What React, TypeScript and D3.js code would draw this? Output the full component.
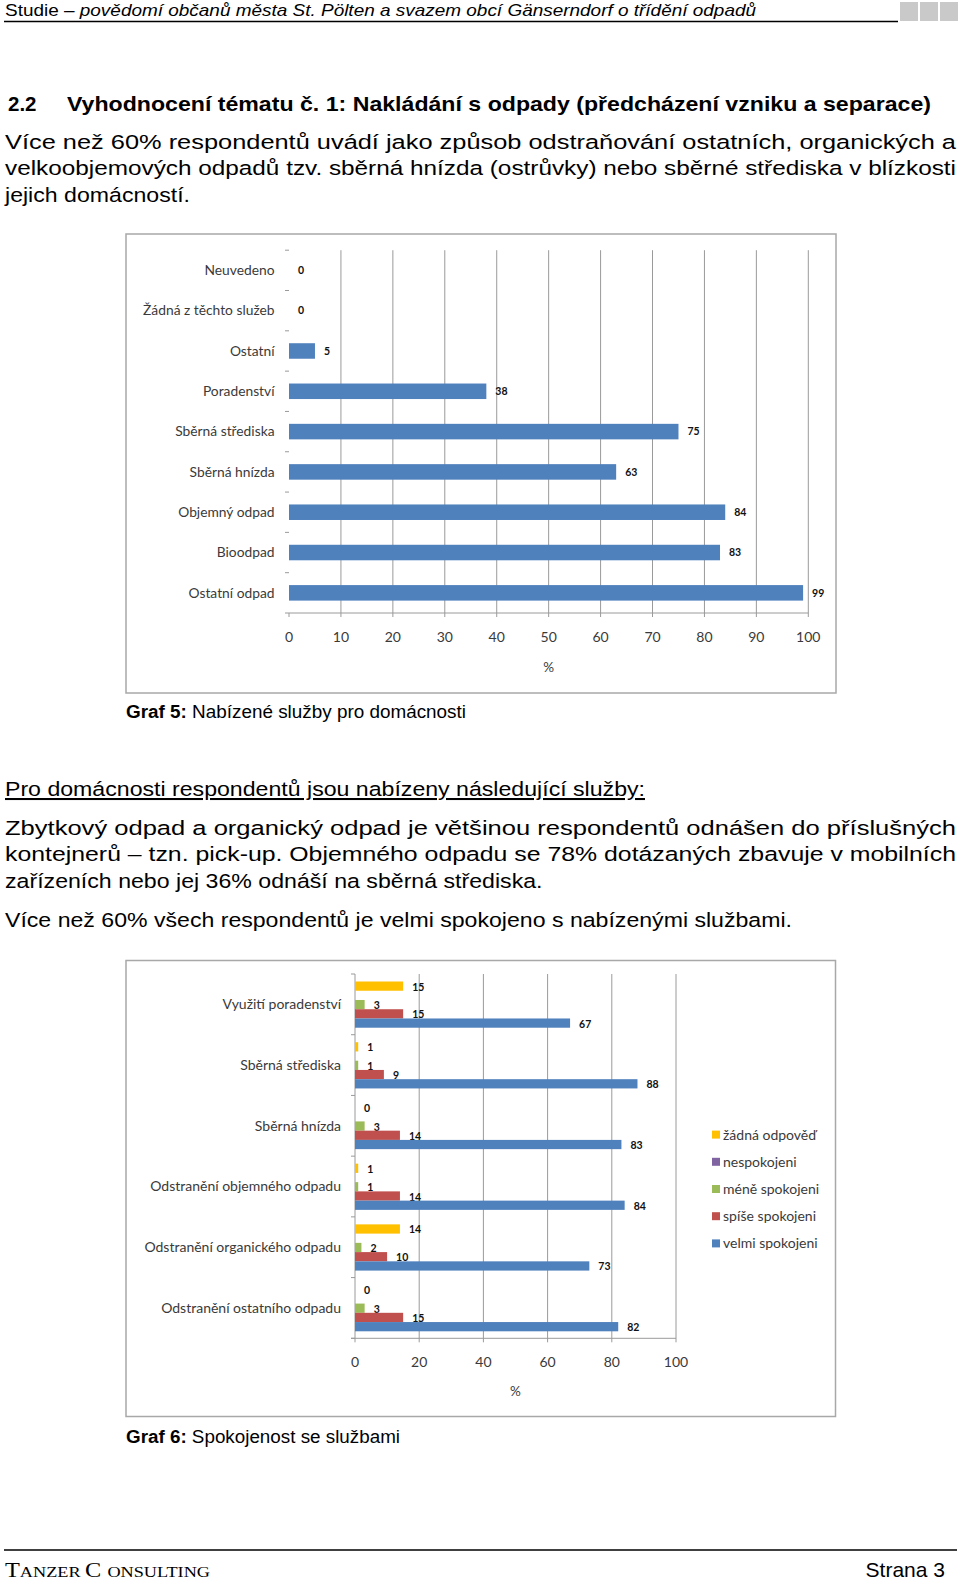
import * as d3 from "d3";

// ---------------------------------------------------------------------------
// Data
// ---------------------------------------------------------------------------

const SERVICES = [
  "Neuvedeno",
  "Žádná z těchto služeb",
  "Ostatní",
  "Poradenství",
  "Sběrná střediska",
  "Sběrná hnízda",
  "Objemný odpad",
  "Bioodpad",
  "Ostatní odpad",
];
const SERVICE_VALUES = [0, 0, 5, 38, 75, 63, 84, 83, 99];
const TICKS_1 = [0, 10, 20, 30, 40, 50, 60, 70, 80, 90, 100];

const AREAS = [
  "Využití poradenství",
  "Sběrná střediska",
  "Sběrná hnízda",
  "Odstranění objemného odpadu",
  "Odstranění organického odpadu",
  "Odstranění ostatního odpadu",
];
const SERIES = ["žádná odpověď", "nespokojeni", "méně spokojeni", "spíše spokojeni", "velmi spokojeni"];
const NO_ANSWER = [15, 1, 0, 1, 14, 0];
const DISSATISFIED: (number | null)[] = [null, null, null, null, null, null];
const LESS_SATISFIED = [3, 1, 3, 1, 2, 3];
const RATHER_SATISFIED = [15, 9, 14, 14, 10, 15];
const VERY_SATISFIED = [67, 88, 83, 84, 73, 82];
const SERIES_VALUES = [NO_ANSWER, DISSATISFIED, LESS_SATISFIED, RATHER_SATISFIED, VERY_SATISFIED];
const SERIES_COLORS = ["#ffc000", "#8064a2", "#9bbb59", "#c0504d", "#4f81bd"];
const TICKS_2 = [0, 20, 40, 60, 80, 100];

const HEADER_PLAIN = "Studie – ";
const HEADER_ITALIC = "povědomí občanů města St. Pölten a svazem obcí Gänserndorf o třídění odpadů";
const HEADING_NUM = "2.2";
const HEADING = "Vyhodnocení tématu č. 1: Nakládání s odpady (předcházení vzniku a separace)";
const PARA_1 = [
  "Více než 60% respondentů uvádí jako způsob odstraňování ostatních, organických a",
  "velkoobjemových odpadů tzv. sběrná hnízda (ostrůvky) nebo sběrné střediska v blízkosti",
  "jejich domácností.",
];
const SUBHEAD = "Pro domácnosti respondentů jsou nabízeny následující služby:";
const PARA_2 = [
  "Zbytkový odpad a organický odpad je většinou respondentů odnášen do příslušných",
  "kontejnerů – tzn. pick-up. Objemného odpadu se 78% dotázaných zbavuje v mobilních",
  "zařízeních nebo jej 36% odnáší na sběrná střediska.",
];
const PARA_3 = "Více než 60% všech respondentů je velmi spokojeno s nabízenými službami.";

// ---------------------------------------------------------------------------
// Styles
// ---------------------------------------------------------------------------

const BODY_FONT = "'Liberation Sans', Arial, sans-serif";
const CHART_FONT = "Lato, 'Open Sans', sans-serif";
const GRID = "#9a9a9a";
const LABEL = "#3a3a3a";
const BAR_BLUE = "#4f81bd";

// ---------------------------------------------------------------------------
// Graf 5
// ---------------------------------------------------------------------------

function ServicesChart() {
  const x = d3.scaleLinear().domain([0, 100]).range([289, 808.3]);
  const y = d3.scaleBand().domain(SERVICES).range([250.2, 613]);
  const bw = y.bandwidth();
  const barH = bw * 0.385;
  const bottom = 613;

  return (
    <g>
      <rect x={126} y={234} width={710} height={459} fill="#fff" stroke="#a8a8a8" strokeWidth={1.5} />
      {TICKS_1.filter((t) => t > 0).map((t) => (
        <line key={t} x1={x(t)} x2={x(t)} y1={250.2} y2={bottom + 4} stroke={GRID} strokeWidth={1} />
      ))}
      <line x1={x(0)} x2={x(0)} y1={bottom} y2={bottom + 4} stroke={GRID} />
      <line x1={285} x2={x(100)} y1={bottom} y2={bottom} stroke={GRID} strokeWidth={1} />
      {d3.range(SERVICES.length).map((i) => (
        <line key={i} x1={285} x2={289} y1={250.2 + i * y.step()} y2={250.2 + i * y.step()} stroke={GRID} />
      ))}
      {SERVICES.map((c, i) => {
        const cy = y(c)! + bw / 2;
        const v = SERVICE_VALUES[i];
        return (
          <g key={c}>
            <text x={274.5} y={cy + 4.8} textAnchor="end" fontFamily={CHART_FONT} fontSize={13.8} fill={LABEL}>
              {c}
            </text>
            {v > 0 && <rect x={x(0)} y={cy - barH / 2} width={x(v) - x(0)} height={barH} fill={BAR_BLUE} />}
            <text x={x(v) + 9} y={cy + 3.8} fontFamily={CHART_FONT} fontWeight={700} fontSize={10.5} fill="#111">
              {v}
            </text>
          </g>
        );
      })}
      {TICKS_1.map((t) => (
        <text key={t} x={x(t)} y={641.5} textAnchor="middle" fontFamily={CHART_FONT} fontSize={14} fill={LABEL}>
          {t}
        </text>
      ))}
      <text x={(x(0) + x(100)) / 2} y={672} textAnchor="middle" fontFamily={CHART_FONT} fontSize={13.5} fill={LABEL}>
        %
      </text>
    </g>
  );
}

// ---------------------------------------------------------------------------
// Graf 6
// ---------------------------------------------------------------------------

function SatisfactionChart() {
  const x = d3.scaleLinear().domain([0, 100]).range([355, 676]);
  const y = d3.scaleBand().domain(AREAS).range([974, 1338.3]);
  const ys = d3.scaleBand().domain(SERIES).range([7.5, y.bandwidth() - 7]);
  const bottom = 1338.3;

  return (
    <g>
      <rect x={126} y={960.5} width={709.5} height={456} fill="#fff" stroke="#a8a8a8" strokeWidth={1.5} />
      {TICKS_2.filter((t) => t > 0).map((t) => (
        <line key={t} x1={x(t)} x2={x(t)} y1={974} y2={bottom + 4} stroke={GRID} strokeWidth={1} />
      ))}
      <line x1={x(0)} x2={x(0)} y1={974} y2={bottom + 4} stroke={GRID} />
      <line x1={351} x2={x(100)} y1={bottom} y2={bottom} stroke={GRID} />
      {d3.range(AREAS.length + 1).map((i) => (
        <line key={i} x1={351} x2={355} y1={974 + i * y.step()} y2={974 + i * y.step()} stroke={GRID} />
      ))}
      {AREAS.map((a, i) => (
        <g key={a}>
          <text
            x={341}
            y={y(a)! + y.bandwidth() / 2 + 4.9}
            textAnchor="end"
            fontFamily={CHART_FONT}
            fontSize={14}
            fill={LABEL}
          >
            {a}
          </text>
          {SERIES.map((s, k) => {
            const v = SERIES_VALUES[k][i];
            if (v == null) return null;
            const top = y(a)! + ys(s)!;
            return (
              <g key={s}>
                {v > 0 && (
                  <rect x={x(0)} y={top} width={x(v) - x(0)} height={ys.bandwidth()} fill={SERIES_COLORS[k]} />
                )}
                <text
                  x={x(v) + 9}
                  y={top + ys.bandwidth() / 2 + 4.5}
                  fontFamily={CHART_FONT}
                  fontWeight={700}
                  fontSize={10.5}
                  fill="#111"
                >
                  {v}
                </text>
              </g>
            );
          })}
        </g>
      ))}
      {TICKS_2.map((t) => (
        <text key={t} x={x(t)} y={1366.5} textAnchor="middle" fontFamily={CHART_FONT} fontSize={14} fill={LABEL}>
          {t}
        </text>
      ))}
      <text x={(x(0) + x(100)) / 2} y={1396} textAnchor="middle" fontFamily={CHART_FONT} fontSize={13.5} fill={LABEL}>
        %
      </text>
      {SERIES.map((s, k) => (
        <g key={s} transform={`translate(712,${1134.6 + k * 27.2})`}>
          <rect x={0} y={-4} width={8} height={8} fill={SERIES_COLORS[k]} />
          <text x={11} y={4.9} fontFamily={CHART_FONT} fontSize={14} fill={LABEL}>
            {s}
          </text>
        </g>
      ))}
    </g>
  );
}

// ---------------------------------------------------------------------------
// Page text helpers
// ---------------------------------------------------------------------------

function Line({ text, y, x1 = 5, x2, size = 20.5 }: { text: string; y: number; x1?: number; x2: number; size?: number }) {
  return (
    <text
      x={x1}
      y={y}
      fontFamily={BODY_FONT}
      fontSize={size}
      fill="#000"
      textLength={x2 - x1}
      lengthAdjust="spacingAndGlyphs"
    >
      {text}
    </text>
  );
}

export default function App() {
  return (
    <svg
      width={960}
      height={1581}
      viewBox="0 0 960 1581"
      style={{ position: "absolute", left: 0, top: 0, background: "#fff" }}
    >
      {/* header */}
      <text x={5} y={15.5} fontFamily={BODY_FONT} fontSize={17} textLength={751} lengthAdjust="spacingAndGlyphs">
        <tspan>{HEADER_PLAIN}</tspan>
        <tspan fontStyle="italic">{HEADER_ITALIC}</tspan>
      </text>
      <line x1={4} x2={898} y1={21.5} y2={21.5} stroke="#000" strokeWidth={1.5} />
      {[0, 1, 2].map((i) => (
        <rect key={i} x={900 + i * 20} y={2} width={18} height={19} fill="#c9c9c9" />
      ))}

      {/* heading */}
      <text x={8} y={110.5} fontFamily={BODY_FONT} fontWeight={700} fontSize={20.5}>
        {HEADING_NUM}
      </text>
      <text
        x={67}
        y={110.5}
        fontFamily={BODY_FONT}
        fontWeight={700}
        fontSize={20.5}
        textLength={864}
        lengthAdjust="spacingAndGlyphs"
      >
        {HEADING}
      </text>

      <Line text={PARA_1[0]} y={148.5} x2={956} />
      <Line text={PARA_1[1]} y={175} x2={956} />
      <Line text={PARA_1[2]} y={202} x2={190} />

      <ServicesChart />

      <text x={126} y={718} fontFamily={BODY_FONT} fontSize={17.5} textLength={340} lengthAdjust="spacingAndGlyphs">
        <tspan fontWeight={700}>Graf 5:</tspan>
        <tspan> Nabízené služby pro domácnosti</tspan>
      </text>

      <text
        x={5}
        y={796}
        fontFamily={BODY_FONT}
        fontSize={20.5}
        textDecoration="underline"
        textLength={640}
        lengthAdjust="spacingAndGlyphs"
      >
        {SUBHEAD}
      </text>

      <Line text={PARA_2[0]} y={834.5} x2={956} />
      <Line text={PARA_2[1]} y={861} x2={956} />
      <Line text={PARA_2[2]} y={888} x2={542.5} />
      <Line text={PARA_3} y={927} x2={792} />

      <SatisfactionChart />

      <text x={126} y={1443} fontFamily={BODY_FONT} fontSize={17.5} textLength={274} lengthAdjust="spacingAndGlyphs">
        <tspan fontWeight={700}>Graf 6:</tspan>
        <tspan> Spokojenost se službami</tspan>
      </text>

      {/* footer */}
      <line x1={4} x2={957} y1={1550} y2={1550} stroke="#000" strokeWidth={1.5} />
      <text
        x={5}
        y={1577}
        fontFamily="'Liberation Serif', 'Times New Roman', serif"
        fill="#000"
        textLength={205}
        lengthAdjust="spacingAndGlyphs"
      >
        <tspan fontSize={20}>T</tspan>
        <tspan fontSize={15}>ANZER </tspan>
        <tspan fontSize={20}>C </tspan>
        <tspan fontSize={15}>ONSULTING</tspan>
      </text>
      <text x={945} y={1577} textAnchor="end" fontFamily={BODY_FONT} fontSize={21}>
        Strana 3
      </text>
    </svg>
  );
}
